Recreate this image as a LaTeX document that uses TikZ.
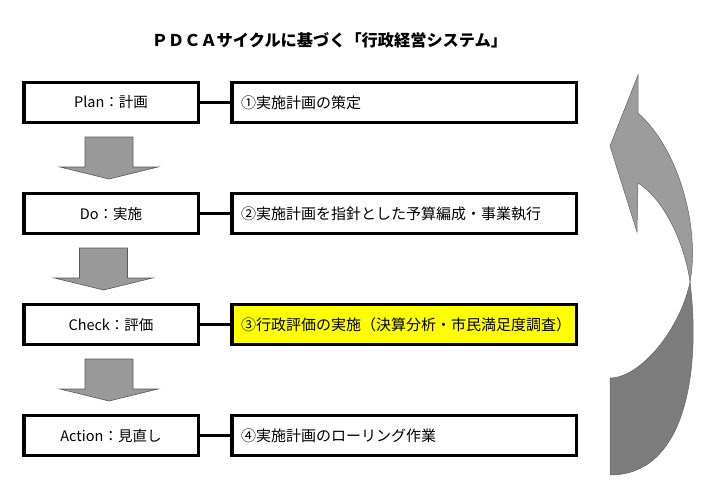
\documentclass[tikz,border=0pt]{standalone}
\usepackage{fontspec}
\setmainfont{Noto Sans CJK JP}
\definecolor{arrowgray}{HTML}{999999}
\definecolor{curvelight}{HTML}{9C9C9C}
\definecolor{curvedark}{HTML}{7C7C7C}
\definecolor{marker}{HTML}{FFFF00}
\usepackage{tikz}
\usetikzlibrary{positioning}
% block arrow pointing down: #1 = centre x, #2 = top y
\newcommand{\blockarrow}[2]{%
  \draw[blk] (#1-24,#2) -- (#1+24,#2) -- (#1+24,#2+30) -- (#1+49,#2+30)
    -- (#1,#2+42) -- (#1-49,#2+30) -- (#1-24,#2+30) -- cycle;}

\begin{document}
\begin{tikzpicture}[x=1pt, y=-1pt,
  stage/.style={draw, line width=3.5pt, fill=white,
                minimum width=174.5pt, minimum height=40pt, align=center,
                font=\fontsize{14.5}{16}\selectfont},
  task/.style={stage, minimum width=344.5pt, text width=326pt,
               inner xsep=9pt, align=left, font=\fontsize{15}{17}\selectfont},
  link/.style={line width=3.5pt},
  blk/.style={fill=arrowgray, draw=black!65, line width=0.6pt},
]
\useasboundingbox (0,0) rectangle (705,499);

\node[font=\fontsize{16.2}{18}\selectfont\bfseries] (title) at (329.5,40)
  {ＰＤＣＡサイクルに基づく「行政経営システム」};

\node[stage] (plan)  at (111,102.5) {Plan：計画};
\node[stage] (do)    at (111,213.5) {Do：実施};
\node[stage] (check) at (111,324.5) {Check：評価};
\node[stage] (act)   at (111,435.5) {Action：見直し};

\node[task] (plantask)  at (404,102.5) {①実施計画の策定};
\node[task] (dotask)    at (404,213.5) {②実施計画を指針とした予算編成・事業執行};
\node[task, fill=marker] (checktask) at (404,324.5) {③行政評価の実施（決算分析・市民満足度調査）};
\node[task] (acttask)   at (404,435.5) {④実施計画のローリング作業};

\draw[link] (plan) -- (plantask);
\draw[link] (do) -- (dotask);
\draw[link] (check) -- (checktask);
\draw[link] (act) -- (acttask);

\blockarrow{109}{137}
\blockarrow{103.5}{248}
\blockarrow{109}{359}

% curved return arrow
\draw[fill=curvelight, draw=black!60, line width=0.5pt]
  (638,113) .. controls (680,150) and (700,230) .. (690,282)
  .. controls (685,245) and (665,200) .. (638,183)
  -- (637,232) -- (610,146) -- (638,75) -- cycle;
\draw[fill=curvedark, draw=black!60, line width=0.5pt]
  (690,282) .. controls (680,330) and (640,378) .. (610,378)
  -- (610,475) .. controls (690,475) and (700,360) .. (690,282) -- cycle;
\end{tikzpicture}
\end{document}
